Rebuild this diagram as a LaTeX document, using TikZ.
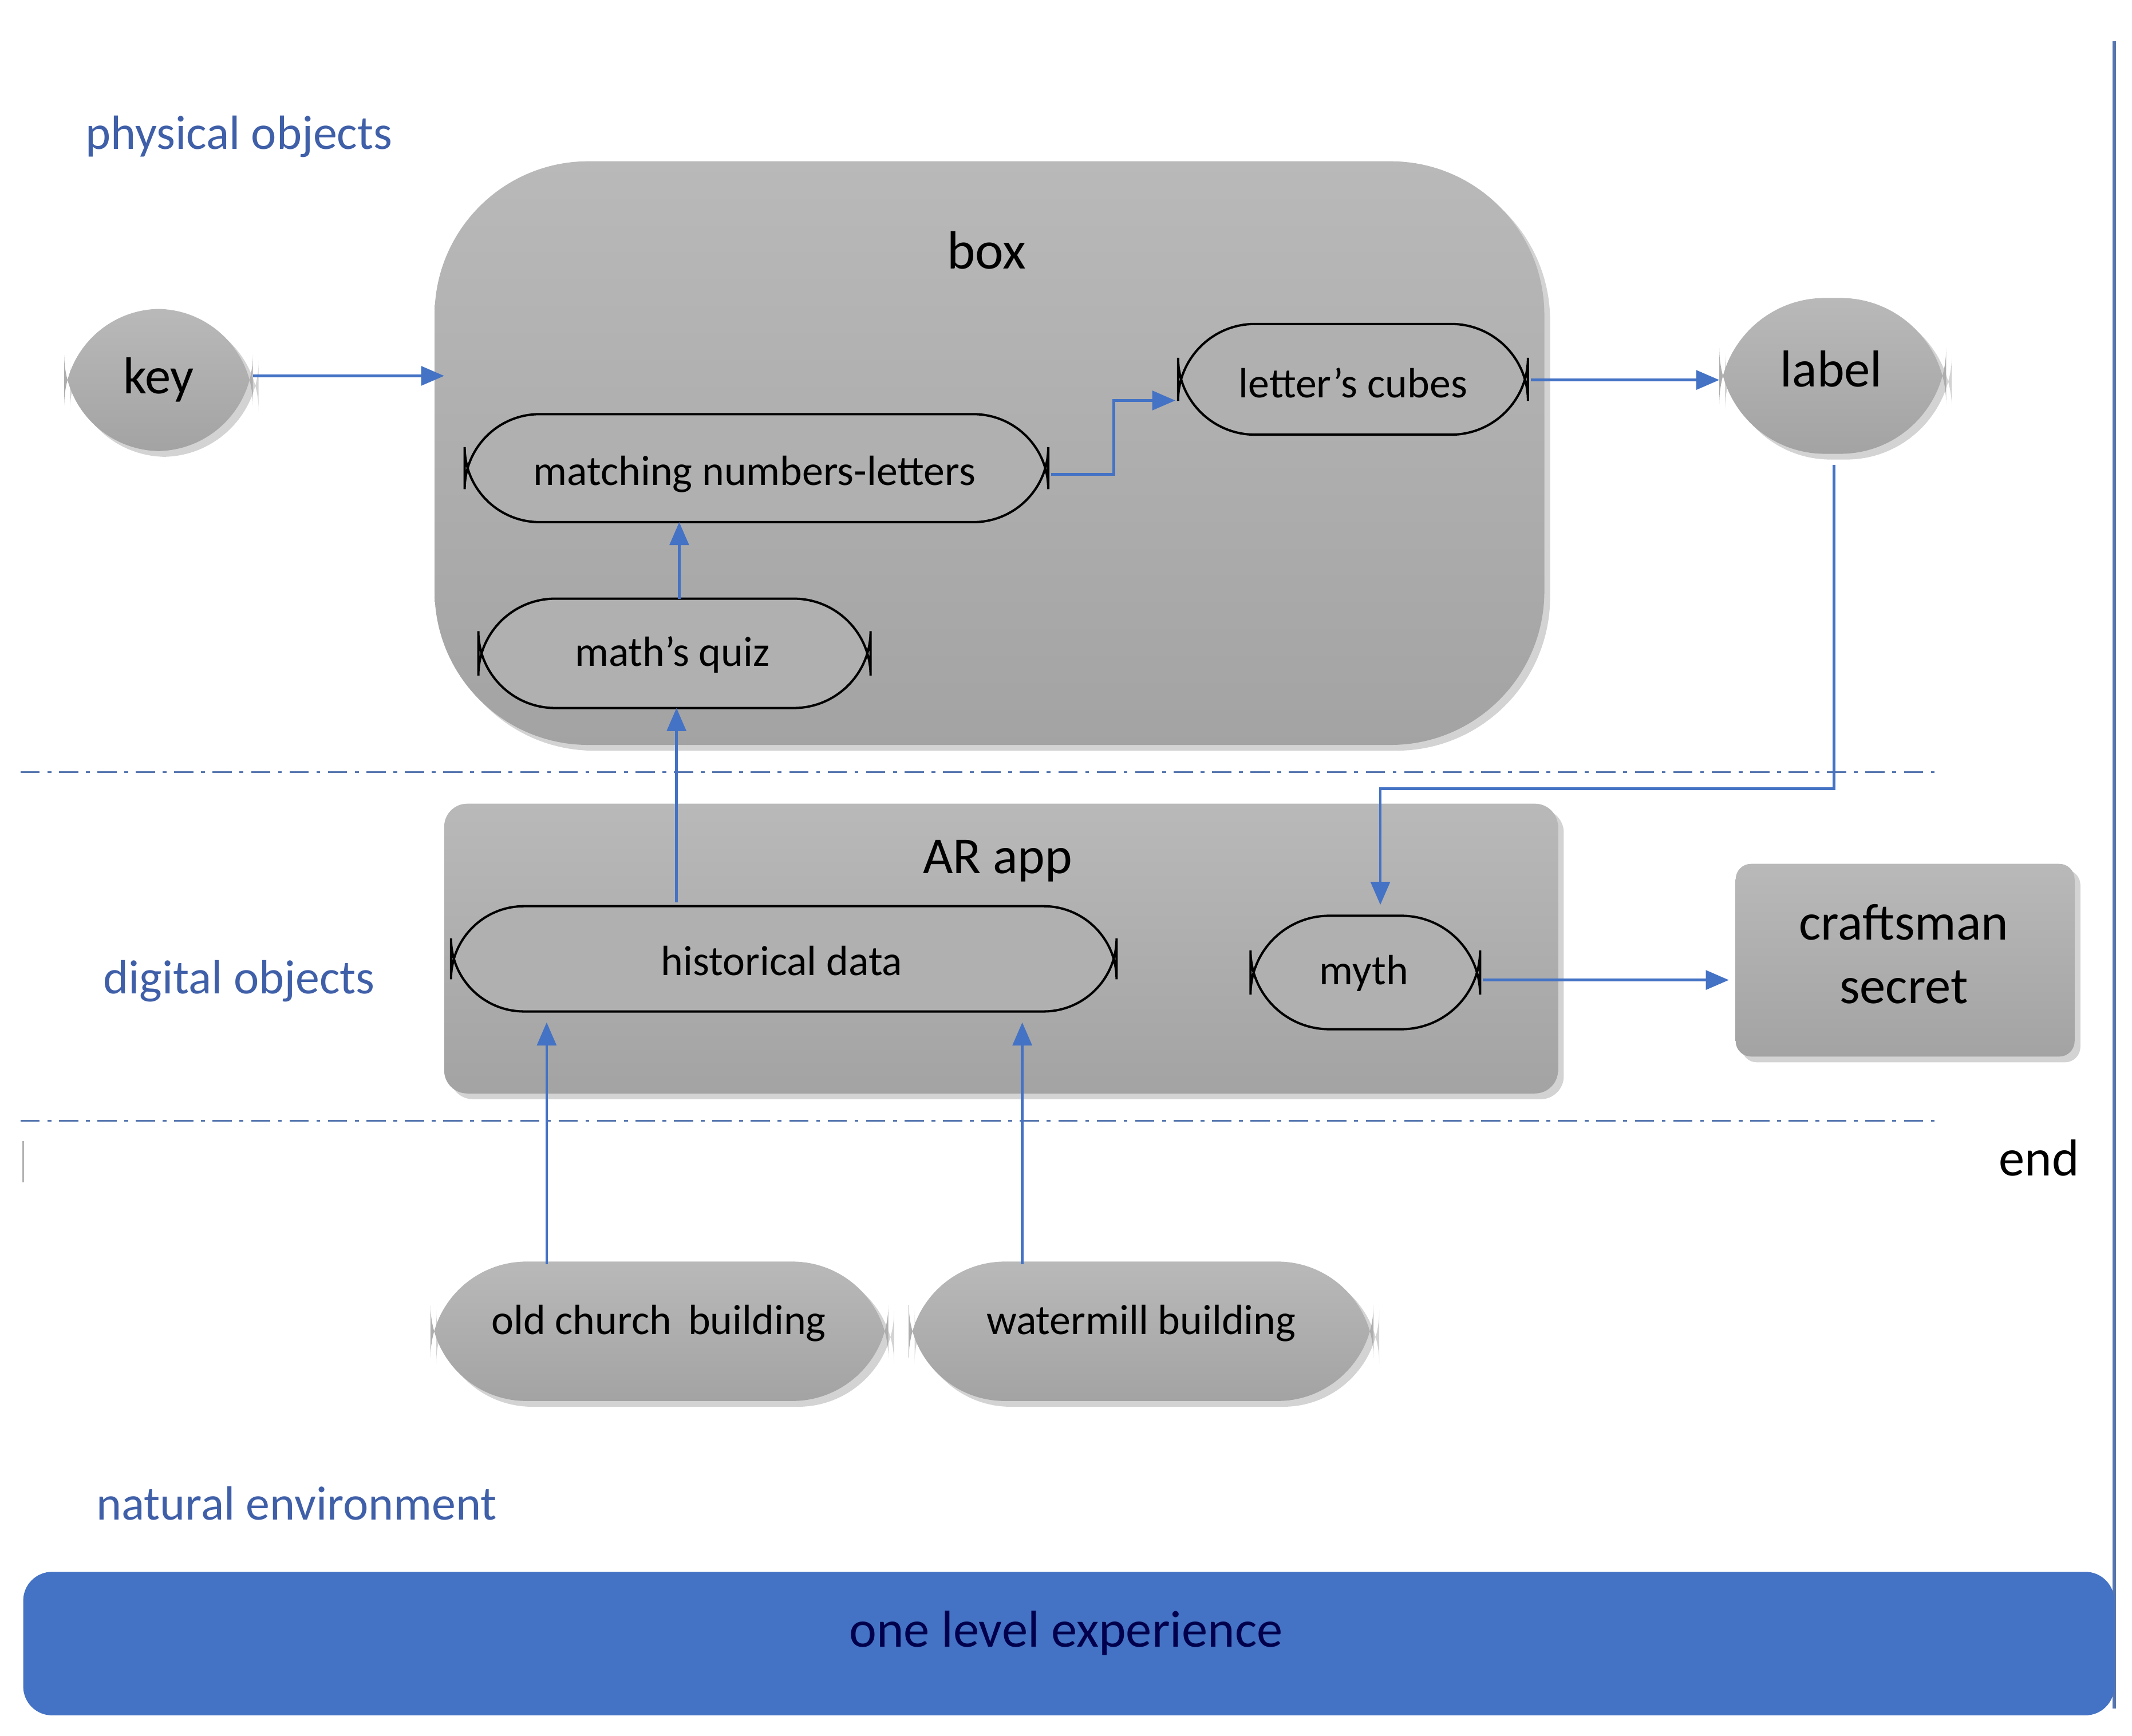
\documentclass[tikz,border=0pt]{standalone}
\usepackage{fontspec}
\setmainfont{Carlito}
\usetikzlibrary{arrows.meta,shadows}
\definecolor{ablue}{HTML}{4472C4}
\definecolor{lblue}{HTML}{3F5FA8}
\begin{document}
\begin{tikzpicture}[x=0.025cm,y=-0.025cm,
 gbox/.style={top color=gray!55,bottom color=gray!72,draw=none,drop shadow={opacity=0.35,shadow xshift=3pt,shadow yshift=-3pt}},
 pill/.style={draw=black,line width=1.2pt,fill=gray!62,font=\fontsize{22}{24}\selectfont},
 lay/.style={text=lblue,font=\fontsize{25}{28}\selectfont},
 arr/.style={ablue,line width=1.3pt,-{Triangle[length=12pt,width=10pt]}},
 sep/.style={ablue!70!gray,line width=1pt,dash pattern=on 10pt off 4pt on 2pt off 4pt}]
\useasboundingbox (0,0) rectangle (1560,1270);
% layer texts
\node[lay] (po) at (175,100) {physical objects};
\node[lay] (do) at (175,718) {digital objects};
\node[lay] (ne) at (217,1100) {natural environment};
% box
\path[gbox,rounded corners=80] (318,118) rectangle (1130,545);
\node[font=\fontsize{28}{30}\selectfont] (boxl) at (722,183) {box};
\coordinate (boxin) at (325,275);
% key, label
\path[gbox,rounded corners=50] (47,226) rectangle (185,330);
\node[font=\fontsize{27}{30}\selectfont] (key) at (116,278) {key};
\coordinate (keyr) at (185,275);
\path[gbox,rounded corners=55] (1258,218) rectangle (1424,332);
\node[font=\fontsize{27}{30}\selectfont] (label) at (1340,270) {label};
\coordinate (labelb) at (1342,340);
% pills in box
\draw[pill,rounded corners=40] (862,237) rectangle (1118,318);
\node[font=\fontsize{22}{24}\selectfont] (lc) at (990,280) {letter’s cubes};
\coordinate (lcl) at (860,293); \coordinate (lcr) at (1120,278);
\draw[pill,rounded corners=39] (340,303) rectangle (767,382);
\node[font=\fontsize{22}{24}\selectfont] (mn) at (552,347) {matching numbers-letters};
\coordinate (mnr) at (769,347); \coordinate (mnb) at (497,382);
\draw[pill,rounded corners=40] (350,438) rectangle (637,518);
\node[font=\fontsize{22}{24}\selectfont] (mq) at (492,479) {math’s quiz};
\coordinate (mqt) at (497,438); \coordinate (mqb) at (495,518);
% separators
\draw[sep] (15,565) -- (1420,565);
\draw[sep] (15,820) -- (1420,820);
% AR app
\path[gbox,rounded corners=12] (325,588) rectangle (1140,800);
\node[font=\fontsize{27}{30}\selectfont] (ar) at (730,630) {AR app};
\draw[pill,rounded corners=38] (330,663) rectangle (817,740);
\node[font=\fontsize{22}{24}\selectfont] (hd) at (572,703) {historical data};
\coordinate (hdt) at (495,660);
\draw[pill,rounded corners=41] (915,670) rectangle (1083,753);
\node[font=\fontsize{22}{24}\selectfont] (myth) at (998,712) {myth};
\coordinate (myt) at (1010,662); \coordinate (myr) at (1085,717);
\path[gbox,rounded corners=8] (1270,632) rectangle (1518,773);
\node[font=\fontsize{27}{33}\selectfont,align=center] (cs) at (1393,698) {craftsman\\secret};
\coordinate (csl) at (1265,717);
\node[font=\fontsize{27}{30}\selectfont] (end) at (1492,847) {end};
\draw[gray!60,line width=1pt] (17,835) -- (17,865);
% buildings
\path[gbox,rounded corners=50] (315,923) rectangle (650,1025);
\node[font=\fontsize{22}{24}\selectfont] (oc) at (482,968) {old church\, building};
\path[gbox,rounded corners=50] (665,923) rectangle (1005,1025);
\node[font=\fontsize{22}{24}\selectfont] (wm) at (835,968) {watermill building};
\coordinate (oct) at (400,925); \coordinate (wmt) at (748,925);
% arrows
\draw[arr] (keyr) -- (boxin);
\draw[arr] (mnr) -- (815,347) -- (815,293) -- (lcl);
\draw[arr] (lcr) -- (1258,278);
\draw[arr] (mqt) -- (mnb);
\draw[arr] (hdt) -- (mqb);
\draw[arr] (labelb) -- (1342,577) -- (1010,577) -- (myt);
\draw[arr] (myr) -- (csl);
\draw[arr] (oct) -- (400,748);
\draw[arr] (wmt) -- (748,748);
% right line
\draw[ablue!70!gray,line width=1.5pt] (1547,30) -- (1547,1250);
% bottom bar
\fill[ablue,rounded corners=15] (17,1150) rectangle (1547,1255);
\node[text=black!70!blue,font=\fontsize{27}{30}\selectfont] (ole) at (780,1195) {one level experience};
\end{tikzpicture}
\end{document}
